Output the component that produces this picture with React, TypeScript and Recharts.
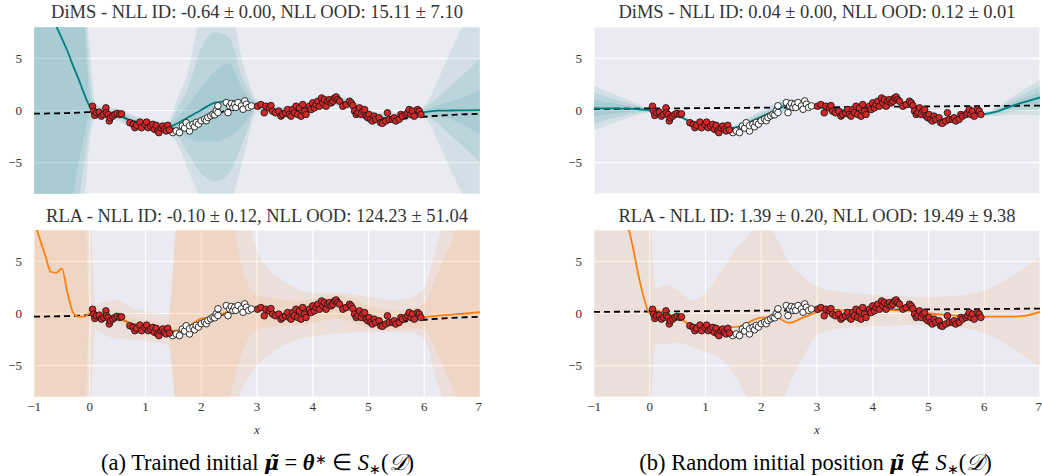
import React from 'react';
import { ComposedChart, Area, Line, Scatter, XAxis, YAxis, CartesianGrid } from 'recharts';

// shared x grid for the lines and bands
const X = [-1, -0.9, -0.8, -0.7, -0.6, -0.5, -0.4, -0.3, -0.2, -0.1, 0, 0.1, 0.25, 0.5, 0.75, 1, 1.25, 1.4, 1.6, 1.75, 2, 2.25, 2.5, 2.75, 3, 3.25, 3.5, 3.75, 4, 4.25, 4.5, 4.75, 5, 5.25, 5.5, 5.75, 6, 6.25, 6.5, 6.75, 7];
const X_TICKS = [-1, 0, 1, 2, 3, 4, 5, 6, 7];
const Y_TICKS = [-5, 0, 5];

// training data (red) and held-out data (white)
const RED_X = [0.05, 0.07, 0.09, 0.12, 0.17, 0.21, 0.25, 0.29, 0.3, 0.33, 0.35, 0.37, 0.41, 0.45, 0.49, 0.54, 0.57,
  0.72, 0.78, 0.81, 0.84, 0.9, 0.93, 0.99, 1.02, 1.05, 1.09, 1.13, 1.16, 1.19, 1.22, 1.24, 1.28, 1.31, 1.34, 1.37, 1.4, 1.43,
  3.01, 3.07, 3.13, 3.16, 3.22, 3.25, 3.28, 3.33, 3.39, 3.43, 3.46, 3.51, 3.55, 3.58, 3.61, 3.64, 3.67, 3.7, 3.73, 3.76,
  3.79, 3.82, 3.85, 3.88, 3.94, 3.97, 4.0, 4.03, 4.06, 4.09, 4.12, 4.16, 4.18, 4.21, 4.24, 4.27, 4.3, 4.33, 4.36, 4.39,
  4.42, 4.45, 4.48, 4.54, 4.6, 4.66, 4.69, 4.72, 4.75, 4.78, 4.81, 4.84, 4.87, 4.9, 4.93, 4.96, 4.99, 5.01, 5.04, 5.07,
  5.1, 5.13, 5.19, 5.22, 5.25, 5.31, 5.34, 5.37, 5.43, 5.46, 5.49, 5.55, 5.58, 5.61, 5.67, 5.7, 5.73, 5.76, 5.79, 5.82,
  5.88, 5.91, 5.94];
const RED_Y = [0.41, -0.06, -0.47, -0.22, -0.16, -0.54, -0.38, 0.25, -0.22, -0.38, -1.0, -0.7, -0.54, -0.38, -0.28, -0.38, -0.32,
  -1.17, -1.33, -1.65, -1.42, -1.11, -1.65, -1.33, -1.11, -1.65, -1.49, -1.33, -1.8, -1.42, -1.96, -2.12, -1.65, -1.49, -1.8, -1.96, -1.42, -1.87,
  0.41, 0.57, -0.22, 0.41, 0.25, 0.47, -0.06, -0.22, -0.06, -0.54, -0.38, -0.22, 0.09, -0.38, -0.54, 0.09, -0.22, 0.41, -0.38, 0.25,
  -0.54, 0.57, -0.06, -0.38, 0.41, 0.09, 0.73, 0.25, 0.57, 0.89, 0.41, 1.2, 0.73, 1.04, 0.41, 0.89, 1.04, 0.73, 0.89, 1.2,
  1.3, 1.04, 0.89, 0.41, 0.57, 0.89, 0.73, 0.47, -0.06, -0.38, -0.22, 0.25, -0.38, -0.06, 0.09, -0.54, -0.7, -0.38, -0.85, -1.01,
  -0.54, -0.85, -0.7, -1.17, -1.23, -1.01, -0.22, -0.85, -0.85, -0.7, -1.01, -0.85, -0.38, -0.54, -0.38, -0.22, 0.09, -0.38, -0.06, -0.54,
  0.09, -0.06, -0.38];
const WHITE_X = [1.49, 1.55, 1.61, 1.66, 1.7, 1.73, 1.79, 1.79, 1.85, 1.88, 1.91, 1.95, 2.0, 2.06, 2.09, 2.12, 2.17, 2.21, 2.24, 2.27,
  2.3, 2.3, 2.45, 2.48, 2.51, 2.54, 2.57, 2.6, 2.62, 2.66, 2.72, 2.75, 2.78, 2.81, 2.85, 2.9];
const WHITE_Y = [-2.12, -1.96, -2.12, -1.49, -1.68, -1.17, -1.96, -1.46, -1.33, -1.55, -1.14, -1.3, -0.98, -0.83, -0.98, -0.67, -0.51, -0.35, -0.41, -0.03,
  -0.19, 0.45, 0.76, -0.2, 0.44, 0.67, 0.29, 0.6, 0.3, 0.76, 0.44, 0.12, 0.92, 0.6, 0.3, 0.44];

// initial networks (dashed)
const TRAINED_INIT = [-0.3, -0.3, -0.29, -0.28, -0.27, -0.26, -0.25, -0.23, -0.21, -0.18, -0.15, -0.12, -0.2, -0.4, -1.0, -1.2, -1.5, -1.7, -1.75, -1.5,
  -1.0, -0.4, 0.1, 0.4, 0.5, 0.2, -0.1, 0.1, 0.5, 0.8, 0.9, 0.4, -0.3, -0.8, -0.85, -0.7, -0.6, -0.5, -0.42, -0.36, -0.32];
const RANDOM_INIT = [0.15, 0.15, 0.16, 0.16, 0.17, 0.17, 0.17, 0.18, 0.18, 0.19, 0.19, 0.2, 0.2, 0.21, 0.22, 0.23, 0.24, 0.25, 0.25, 0.26,
  0.27, 0.28, 0.29, 0.3, 0.31, 0.32, 0.33, 0.34, 0.35, 0.36, 0.37, 0.38, 0.39, 0.4, 0.41, 0.42, 0.43, 0.44, 0.45, 0.46, 0.47];

// (a) DiMS, trained init
const A_MEAN = [14, 12.6, 11.2, 9.7, 8.1, 6.9, 5.7, 4.3, 3.0, 1.6, 0.4, 0.0, -0.1, -0.4, -1.0, -1.2, -1.5, -1.6, -1.15, -0.7,
  0.05, 0.75, 0.9, 0.85, 0.45, 0.1, -0.1, 0.1, 0.5, 0.8, 0.9, 0.4, -0.3, -0.7, -0.7, -0.4, -0.15, -0.02, 0.0, 0.02, 0.03];
const A_LO1 = [-10, -10, -10, -10, -10, -10, -10, -8, -5, -2.5, -0.3, -0.2, -0.25, -0.6, -1.2, -1.35, -1.65, -1.8, -1.9, -2.6,
  -3.0, -3.0, -2.5, -1.5, 0.25, -0.05, -0.25, -0.05, 0.35, 0.65, 0.75, 0.25, -0.45, -0.85, -0.85, -0.55, -0.35, -0.55, -0.9, -1.5, -2.3];
const A_HI1 = [10, 10, 10, 10, 10, 10, 10, 10, 10, 8.5, 1.2, 0.2, 0.05, -0.2, -0.8, -1.05, -1.35, -1.4, -0.5, 0.5,
  2.2, 3.8, 4.5, 2.0, 0.65, 0.25, 0.05, 0.25, 0.65, 0.95, 1.05, 0.55, -0.15, -0.55, -0.55, -0.25, 0.05, 0.5, 0.9, 1.4, 2.0];
const A_LO2 = [-10, -10, -10, -10, -10, -10, -10, -10, -8.5, -5, -1.5, -0.4, -0.4, -0.8, -1.4, -1.5, -1.8, -1.95, -2.6, -4.0,
  -6.0, -6.8, -6.0, -3.0, 0.1, -0.2, -0.4, -0.2, 0.2, 0.5, 0.6, 0.1, -0.6, -1.0, -1.0, -0.7, -0.55, -1.3, -2.5, -3.7, -5.0];
const A_HI2 = [10, 10, 10, 10, 10, 10, 10, 10, 10, 10, 3.0, 0.4, 0.2, 0.0, -0.6, -0.9, -1.2, -1.25, 0.5, 2.0,
  6.0, 7.5, 7.0, 3.0, 0.8, 0.4, 0.2, 0.4, 0.8, 1.1, 1.2, 0.7, 0.0, -0.4, -0.4, -0.1, 0.25, 1.3, 2.5, 3.7, 5.0];
const A_LO3 = [-10, -10, -10, -10, -10, -10, -10, -10, -10, -8.5, -3.0, -0.7, -0.55, -1.0, -1.6, -1.65, -1.95, -2.1, -3.5, -5.5,
  -8.5, -10, -9.0, -4.7, -0.1, -0.35, -0.55, -0.35, 0.05, 0.35, 0.45, -0.05, -0.75, -1.15, -1.15, -0.85, -0.75, -3.0, -6.0, -8.5, -10];
const A_HI3 = [10, 10, 10, 10, 10, 10, 10, 10, 10, 10, 6.0, 0.8, 0.35, 0.2, -0.4, -0.75, -1.05, -1.1, 1.5, 3.5,
  9.0, 10, 10, 4.5, 1.0, 0.55, 0.35, 0.55, 0.95, 1.25, 1.35, 0.85, 0.15, -0.25, -0.25, 0.05, 0.45, 3.0, 6.0, 8.5, 10];

// (b) DiMS, random init
const B_MEAN = [0.22, 0.21, 0.2, 0.2, 0.19, 0.18, 0.17, 0.15, 0.12, 0.07, 0.0, -0.1, -0.25, -0.5, -1.1, -1.4, -1.6, -1.7, -1.55, -1.2,
  -0.6, 0.0, 0.55, 0.5, 0.3, 0.2, 0.0, 0.1, 0.4, 0.75, 0.8, 0.3, -0.5, -0.85, -0.8, -0.45, -0.35, -0.05, 0.45, 0.85, 1.25];
const B_LO1 = [-0.58, -0.49, -0.4, -0.35, -0.26, -0.22, -0.13, -0.1, -0.06, -0.05, -0.06, -0.16, -0.31, -0.56, -1.16, -1.46, -1.66, -1.76, -1.65, -1.35,
  -0.8, -0.25, 0.35, 0.35, 0.22, 0.14, -0.06, 0.04, 0.34, 0.69, 0.74, 0.24, -0.56, -0.91, -0.86, -0.51, -0.41, -0.2, 0.2, 0.45, 0.75];
const B_HI1 = [1.02, 0.91, 0.8, 0.75, 0.64, 0.58, 0.47, 0.4, 0.3, 0.19, 0.06, -0.04, -0.19, -0.44, -1.04, -1.34, -1.54, -1.64, -1.45, -1.05,
  -0.4, 0.25, 0.75, 0.65, 0.38, 0.26, 0.06, 0.16, 0.46, 0.81, 0.86, 0.36, -0.44, -0.79, -0.74, -0.39, -0.29, 0.1, 0.7, 1.25, 1.75];
const B_LO2 = [-1.28, -1.09, -0.95, -0.8, -0.66, -0.52, -0.38, -0.3, -0.2, -0.13, -0.12, -0.22, -0.37, -0.62, -1.22, -1.52, -1.72, -1.82, -1.75, -1.5,
  -1.0, -0.45, 0.15, 0.2, 0.15, 0.08, -0.12, -0.02, 0.28, 0.63, 0.68, 0.18, -0.62, -0.97, -0.92, -0.57, -0.47, -0.35, -0.1, 0.05, 0.15];
const B_HI2 = [1.72, 1.51, 1.35, 1.2, 1.04, 0.88, 0.72, 0.6, 0.44, 0.27, 0.12, 0.02, -0.13, -0.38, -0.98, -1.28, -1.48, -1.58, -1.35, -0.9,
  -0.2, 0.45, 0.95, 0.8, 0.45, 0.32, 0.12, 0.22, 0.52, 0.87, 0.92, 0.42, -0.38, -0.73, -0.68, -0.33, -0.23, 0.25, 1.0, 1.65, 2.35];
const B_LO3 = [-1.88, -1.69, -1.5, -1.3, -1.11, -0.92, -0.73, -0.55, -0.38, -0.23, -0.18, -0.28, -0.43, -0.68, -1.28, -1.58, -1.78, -1.88, -1.85, -1.65,
  -1.2, -0.7, -0.05, 0.05, 0.08, 0.02, -0.18, -0.08, 0.22, 0.57, 0.62, 0.12, -0.68, -1.03, -0.98, -0.63, -0.53, -0.5, -0.4, -0.4, -0.45];
const B_HI3 = [2.32, 2.11, 1.9, 1.7, 1.49, 1.28, 1.07, 0.85, 0.62, 0.37, 0.18, 0.08, -0.07, -0.32, -0.92, -1.22, -1.42, -1.52, -1.25, -0.75,
  0.0, 0.7, 1.15, 0.95, 0.52, 0.38, 0.18, 0.28, 0.58, 0.93, 0.98, 0.48, -0.32, -0.67, -0.62, -0.27, -0.17, 0.4, 1.3, 2.1, 2.95];

// (a) RLA, trained init
const C_MEAN = [9.0, 7.2, 5.6, 4.0, 3.9, 4.3, 2.0, 0.1, -0.3, -0.3, 0.0, -0.1, -0.2, -0.4, -1.0, -1.2, -1.5, -1.65, -1.6, -1.3,
  -0.5, -0.3, 0.2, 0.35, 0.4, 0.1, -0.1, 0.1, 0.5, 0.8, 0.9, 0.4, -0.3, -0.8, -0.7, -0.5, -0.35, -0.2, -0.1, 0.0, 0.12];
const C_LO1 = [-10, -10, -10, -10, -10, -10, -10, -10, -10, -10, -0.5, -0.5, -0.7, -0.9, -1.5, -1.8, -2.0, -2.2, -10, -10,
  -10, -10, -8, -3.5, -1.5, -1.3, -1.2, -1.1, -0.9, -0.6, -0.5, -0.9, -1.4, -1.6, -1.6, -1.4, -1.5, -4, -7, -10, -10];
const C_HI1 = [10, 10, 10, 10, 10, 10, 10, 10, 10, 10, 0.5, 0.4, 0.3, 0.2, -0.4, -0.6, -0.9, -1.0, 10, 10,
  10, 10, 10, 4.0, 1.8, 1.5, 1.3, 1.2, 1.4, 1.6, 1.7, 1.3, 0.8, 0.4, 0.3, 0.5, 1.0, 4.0, 7.0, 10, 10];
const C_LO2 = [-10, -10, -10, -10, -10, -10, -10, -10, -10, -10, -10, -1.5, -2.0, -2.4, -2.5, -2.6, -2.8, -3.0, -10, -10,
  -10, -10, -10, -7, -5, -3.8, -3.0, -2.5, -2.2, -2.0, -1.9, -1.8, -1.8, -1.8, -1.8, -1.8, -2.5, -7, -10, -10, -10];
const C_HI2 = [10, 10, 10, 10, 10, 10, 10, 10, 10, 10, 10, 0.9, 1.1, 1.3, 0.6, 0.2, 0.0, -0.2, 10, 10,
  10, 10, 10, 10, 6.0, 4.0, 3.0, 2.3, 2.0, 2.0, 2.0, 1.8, 1.6, 1.4, 1.3, 1.5, 2.5, 7, 10, 10, 10];

// (b) RLA, random init
const D_MEAN = [14, 13, 12, 11, 10, 9.5, 8.5, 6.3, 3.6, 1.4, 0.0, 0.3, 0.1, -0.4, -1.1, -1.3, -1.3, -1.3, -1.25, -0.9,
  -0.4, -0.35, -0.9, -0.4, 0.1, 0.3, 0.3, 0.35, 0.45, 0.35, 0.3, 0.2, 0.0, -0.1, -0.2, -0.25, -0.3, -0.3, -0.3, -0.2, 0.15];
const D_LO = [-10, -10, -10, -10, -10, -10, -10, -10, -10, -10, -10, -2.9, -2.9, -2.8, -3.2, -3.7, -4.2, -5.0, -6.5, -8.2,
  -10, -10, -6.8, -4.2, -2.1, -1.6, -1.4, -1.3, -1.2, -1.2, -1.1, -1.1, -1.1, -1.2, -1.3, -1.5, -1.9, -2.5, -3.3, -4.2, -5.1];
const D_HI = [10, 10, 10, 10, 10, 10, 10, 10, 10, 10, 10, 2.3, 2.7, 2.3, 1.3, 2.0, 3.8, 5.0, 6.5, 7.3,
  9.0, 7.5, 4.9, 3.5, 2.6, 2.2, 2.0, 1.9, 1.8, 1.7, 1.7, 1.6, 1.6, 1.6, 1.7, 1.9, 2.2, 2.8, 3.6, 4.5, 5.4];

const TEAL = '#008080';
const ORANGE = '#ff7f0e';
const FONT = '"Liberation Serif", "Times New Roman", serif';

const redPts = RED_X.map((x, i) => ({ x, y: RED_Y[i] }));
const whitePts = WHITE_X.map((x, i) => ({ x, y: WHITE_Y[i] }));

const fmt = (v: number) => (v < 0 ? `\u2212${-v}` : `${v}`);

function buildRows(mean: number[], init: number[], bands: number[][][]) {
  return X.map((x, i) => {
    const row: any = { x, mean: mean[i], init: init[i] };
    bands.forEach(([lo, hi], k) => {
      row[`b${k}`] = [lo[i], hi[i]];
    });
    return row;
  });
}

const redDot = (p: any) => <circle cx={p.cx} cy={p.cy} r={3.3} fill="#d62728" stroke="#1a1a1a" strokeWidth={0.9} />;
const whiteDot = (p: any) => <circle cx={p.cx} cy={p.cy} r={3.3} fill="#ffffff" stroke="#1a1a1a" strokeWidth={0.9} />;

function Panel({ left, top, bottomRow, color, mean, init, bands }: any) {
  const rows = buildRows(mean, init, bands);
  const tickStyle = { fontFamily: FONT, fontSize: 13, fill: '#333' };
  return (
    <div style={{ position: 'absolute', left, top }}>
      <ComposedChart width={482} height={bottomRow ? 234 : 200} data={rows}
        margin={{ top: 27, right: 2, bottom: 6, left: 4 }}>
        <CartesianGrid fill="#EAEAF2" fillOpacity={1} stroke="#ffffff" strokeWidth={1.2} />
        <XAxis dataKey="x" type="number" domain={[-1, 7]} ticks={X_TICKS} allowDataOverflow
          height={bottomRow ? 34 : 0} tick={bottomRow ? tickStyle : false} tickFormatter={fmt}
          axisLine={false} tickLine={false} tickSize={3} tickMargin={2} />
        <YAxis type="number" domain={[-8, 8]} ticks={Y_TICKS} allowDataOverflow width={30}
          tick={tickStyle} tickFormatter={fmt} axisLine={false} tickLine={false} tickSize={6} tickMargin={6} />
        {bands.map((_: any, k: number) => (
          <Area key={k} dataKey={`b${k}`} type="monotone" stroke="none" fill={color} fillOpacity={0.1}
            isAnimationActive={false} activeDot={false} />
        ))}
        <Line dataKey="init" type="monotone" stroke="#000" strokeWidth={1.8} strokeDasharray="6 4"
          dot={false} activeDot={false} isAnimationActive={false} />
        <Line dataKey="mean" type="monotone" stroke={color} strokeWidth={1.8}
          dot={false} activeDot={false} isAnimationActive={false} />
        <Scatter data={whitePts} dataKey="y" shape={whiteDot} isAnimationActive={false} />
        <Scatter data={redPts} dataKey="y" shape={redDot} isAnimationActive={false} />
      </ComposedChart>
    </div>
  );
}

function Title({ cx, top, children }: any) {
  return (
    <div style={{ position: 'absolute', left: cx - 300, top, width: 600, textAlign: 'center',
      fontFamily: FONT, fontSize: 18.5, lineHeight: '20px', color: '#333', whiteSpace: 'nowrap' }}>
      {children}
    </div>
  );
}

function AxisLabel({ cx }: any) {
  return (
    <div style={{ position: 'absolute', left: cx - 20, top: 423, width: 40, textAlign: 'center',
      fontFamily: FONT, fontSize: 13, fontStyle: 'italic', color: '#333', lineHeight: '14px' }}>x</div>
  );
}

// bold italic mu with a combining tilde, in a font that places the mark properly
const muStyle: any = { fontFamily: '"DejaVu Serif", serif', fontWeight: 'bold', fontStyle: 'italic', fontSize: '0.9em' };

const captionStyle: any = {
  position: 'absolute', top: 451, width: 515, textAlign: 'center', fontFamily: FONT,
  fontSize: 22.5, lineHeight: '24px', color: '#000', whiteSpace: 'nowrap',
};
const subStyle: any = { fontSize: 14, lineHeight: 0, verticalAlign: '-0.25em' };
const supStyle: any = { fontSize: 14, lineHeight: 0, verticalAlign: '0.45em' };

export default function App() {
  return (
    <div style={{ position: 'absolute', left: 0, top: 0, width: 1042, height: 476, overflow: 'hidden', background: '#fff' }}>
      <Panel left={0} top={0} color={TEAL} mean={A_MEAN} init={TRAINED_INIT}
        bands={[[A_LO3, A_HI3], [A_LO2, A_HI2], [A_LO1, A_HI1]]} />
      <Panel left={560} top={0} color={TEAL} mean={B_MEAN} init={RANDOM_INIT}
        bands={[[B_LO3, B_HI3], [B_LO2, B_HI2], [B_LO1, B_HI1]]} />
      <Panel left={0} top={203} bottomRow color={ORANGE} mean={C_MEAN} init={TRAINED_INIT}
        bands={[[C_LO2, C_HI2], [C_LO1, C_HI1]]} />
      <Panel left={560} top={203} bottomRow color={ORANGE} mean={D_MEAN} init={RANDOM_INIT}
        bands={[[D_LO, D_HI]]} />

      <Title cx={257} top={2}>DiMS - NLL ID: -0.64 ± 0.00, NLL OOD: 15.11 ± 7.10</Title>
      <Title cx={817} top={2}>DiMS - NLL ID: 0.04 ± 0.00, NLL OOD: 0.12 ± 0.01</Title>
      <Title cx={257} top={206}>RLA - NLL ID: -0.10 ± 0.12, NLL OOD: 124.23 ± 51.04</Title>
      <Title cx={817} top={206}>RLA - NLL ID: 1.39 ± 0.20, NLL OOD: 19.49 ± 9.38</Title>

      <AxisLabel cx={257} />
      <AxisLabel cx={817} />

      <div style={{ ...captionStyle, left: 0 }}>
        (a) Trained initial <span style={muStyle}>μ̃</span> = <b><i>θ</i></b><span style={supStyle}>∗</span> ∈ <i>S</i><span style={subStyle}>∗</span>(<i>𝒟</i>)
      </div>
      <div style={{ ...captionStyle, left: 558 }}>
        (b) Random initial position <span style={muStyle}>μ̃</span> ∉ <i>S</i><span style={subStyle}>∗</span>(<i>𝒟</i>)
      </div>
    </div>
  );
}
